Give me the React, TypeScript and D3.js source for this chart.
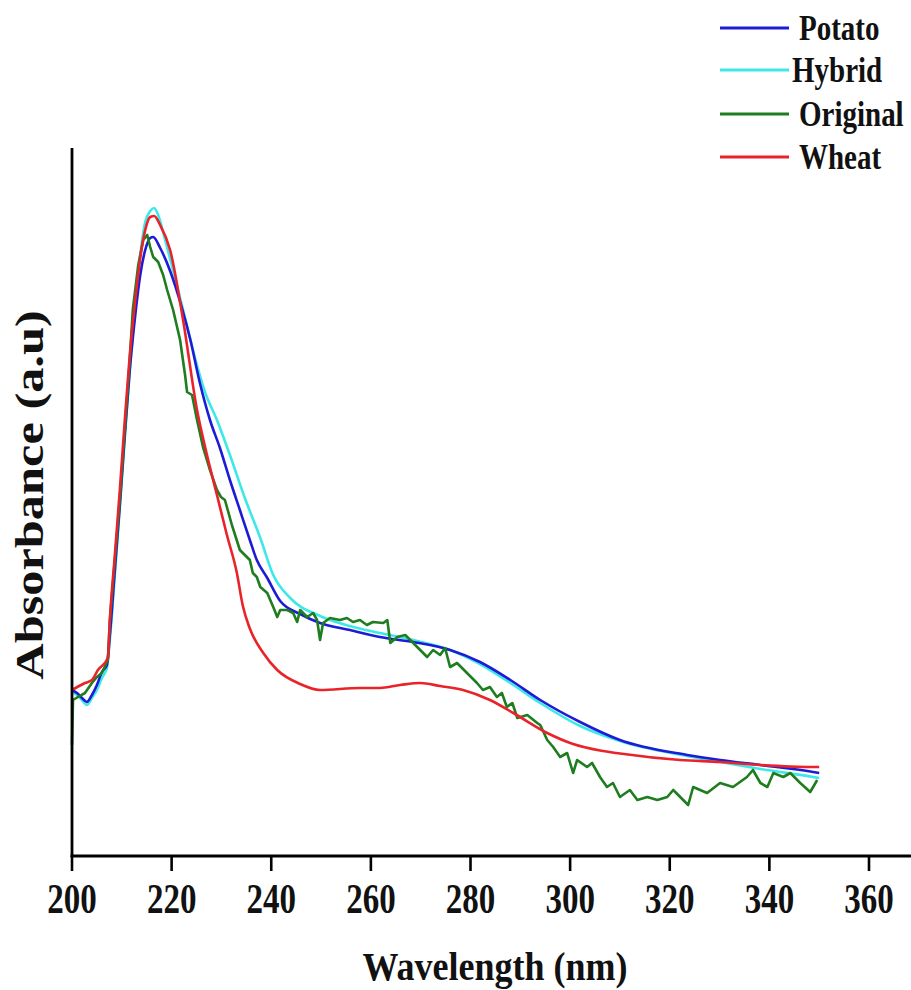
import React from "react";
import * as d3 from "d3";

// Wavelength (nm) and absorbance (a.u.)
const potatoNm = [200,201,202,203,204,205,206,207,207.6,208.6,209.6,210.6,211.6,212.7,213.7,214.7,215.7,216.3,217.7,219.7,222.1,223.7,225.7,227.7,229.7,231.7,233.7,235.7,237.1,239.2,241.8,245.8,249.8,255.8,261.8,268.5,275.9,281.9,288,294,302,310,323.5,330.1,338.2,348.8,350];
const potatoAbs = [0.332,0.326,0.316,0.308,0.322,0.342,0.368,0.382,0.442,0.572,0.702,0.842,0.972,1.082,1.162,1.212,1.236,1.238,1.216,1.17,1.095,1.035,0.945,0.872,0.816,0.752,0.692,0.632,0.592,0.556,0.51,0.484,0.466,0.452,0.438,0.428,0.412,0.388,0.352,0.312,0.268,0.232,0.202,0.192,0.182,0.168,0.166];

const hybridNm = [200,201,202,203,204,205,206,207,207.6,208.6,209.6,210.6,211.6,212.7,213.7,214.7,215.7,216.5,217.3,218.7,220.7,222.7,224.7,226.7,229.1,231.7,234.7,237.8,240.4,243.8,249.8,255.8,261.8,268.5,275.9,281.9,288,294,302,310,323.5,330.1,338.2,348.8,350];
const hybridAbs = [0.328,0.322,0.312,0.302,0.316,0.332,0.356,0.376,0.432,0.562,0.696,0.836,0.972,1.102,1.202,1.268,1.29,1.296,1.282,1.232,1.156,1.076,0.996,0.928,0.872,0.802,0.716,0.636,0.562,0.516,0.48,0.46,0.446,0.432,0.412,0.384,0.346,0.306,0.26,0.23,0.2,0.188,0.174,0.158,0.156];

const originalNm = [200.0,200.2,201.2,202.6,204.0,205.0,206.0,207.2,207.6,208.6,209.6,210.6,211.6,212.2,213.3,214.3,215.1,215.7,216.3,217.3,218.3,219.1,220.3,221.7,222.7,223.1,224.1,225.1,226.3,227.7,229.1,229.9,230.7,232.1,233.7,235.7,236.3,237.1,237.8,239.2,240.4,241.2,241.8,243.2,244.4,245.2,245.8,247.2,248.4,249.2,249.8,250.4,251.8,253.8,255.2,256.4,257.8,259.2,260.4,262.5,263.3,263.9,265.3,266.9,268.5,269.9,271.3,272.5,273.9,274.9,275.9,277.3,279.3,281.3,282.5,283.9,285.3,286.3,287.3,288.4,289.4,291.4,293.4,294.0,295.4,296.6,298.0,299.4,300.6,301.4,303.4,304.4,306.0,307.4,308.6,310.0,312.0,313.5,315.5,317.5,319.5,320.7,322.7,323.7,324.7,327.5,330.1,332.7,335.5,336.7,338.2,339.6,340.8,342.8,344.2,346.2,348.2,349.6];
const originalAbs = [0.222,0.312,0.318,0.326,0.346,0.358,0.366,0.392,0.472,0.592,0.712,0.852,0.992,1.092,1.182,1.232,1.242,1.218,1.198,1.188,1.162,1.132,1.092,1.032,0.962,0.928,0.922,0.872,0.818,0.772,0.732,0.718,0.712,0.662,0.612,0.592,0.566,0.558,0.538,0.526,0.498,0.478,0.492,0.492,0.486,0.468,0.492,0.478,0.486,0.472,0.432,0.466,0.476,0.472,0.476,0.468,0.472,0.462,0.468,0.466,0.472,0.426,0.438,0.442,0.426,0.412,0.398,0.412,0.402,0.416,0.378,0.386,0.366,0.346,0.332,0.338,0.318,0.326,0.298,0.306,0.276,0.282,0.266,0.262,0.232,0.218,0.198,0.206,0.166,0.192,0.178,0.186,0.158,0.138,0.146,0.118,0.132,0.112,0.118,0.112,0.118,0.132,0.112,0.102,0.138,0.126,0.146,0.138,0.158,0.172,0.146,0.138,0.166,0.158,0.166,0.146,0.128,0.152];

const wheatNm = [200,202.6,204,205.2,207.2,207.6,208.6,209.6,210.6,211.6,212.7,213.7,214.7,215.7,216.5,217.7,219.7,222.3,225.1,227.1,229.1,231.1,233.1,234.3,235.7,238.4,241.2,245.8,249.8,257.8,261.8,265.9,269.9,273.9,278.5,283.9,288.6,295.4,300.6,306,310,322.1,330.1,338.2,348.8,350];
const wheatAbs = [0.332,0.346,0.352,0.372,0.396,0.472,0.602,0.732,0.872,1.002,1.112,1.196,1.252,1.278,1.28,1.262,1.212,1.072,0.892,0.802,0.722,0.642,0.566,0.5,0.455,0.406,0.372,0.344,0.332,0.336,0.336,0.342,0.346,0.34,0.332,0.312,0.286,0.246,0.224,0.211,0.205,0.192,0.188,0.182,0.178,0.178];

const xTicks = [200, 220, 240, 260, 280, 300, 320, 340, 360];
const seriesNames = ["Potato", "Hybrid", "Original", "Wheat"];
const seriesColors = ["#1c1cd6", "#3ee8e8", "#1e7d1e", "#e8242a"];

const W = 911;
const H = 990;
const FONT = "'Liberation Serif', 'Times New Roman', serif";

export default function App() {
  const x = d3.scaleLinear().domain([200, 360]).range([72, 869]);
  const y = d3.scaleLinear().domain([0, 1.416]).range([856, 148]);

  const smooth = d3
    .line<[number, number]>()
    .x((d) => x(d[0]))
    .y((d) => y(d[1]))
    .curve(d3.curveMonotoneX);
  const jagged = d3
    .line<[number, number]>()
    .x((d) => x(d[0]))
    .y((d) => y(d[1]))
    .curve(d3.curveLinear);

  const zip = (a: number[], b: number[]) => a.map((v, i) => [v, b[i]] as [number, number]);

  const series = [
    { name: "Hybrid", data: zip(hybridNm, hybridAbs), gen: smooth, color: seriesColors[1] },
    { name: "Potato", data: zip(potatoNm, potatoAbs), gen: smooth, color: seriesColors[0] },
    { name: "Original", data: zip(originalNm, originalAbs), gen: jagged, color: seriesColors[2] },
    { name: "Wheat", data: zip(wheatNm, wheatAbs), gen: smooth, color: seriesColors[3] },
  ];

  const legendY = [28, 70, 114, 157];

  return (
    <svg
      width={W}
      height={H}
      style={{ position: "absolute", left: 0, top: 0, background: "#fff" }}
      fontFamily={FONT}
    >
      <rect x={0} y={0} width={W} height={H} fill="#fff" />
      {series.map((s) => (
        <path
          key={s.name}
          d={s.gen(s.data) || ""}
          fill="none"
          stroke={s.color}
          strokeWidth={2.6}
          strokeLinejoin="round"
        />
      ))}
      {/* axes */}
      <line x1={72} x2={72} y1={148} y2={857} stroke="#000" strokeWidth={2.8} />
      <line x1={70.6} x2={911} y1={856} y2={856} stroke="#000" strokeWidth={3} />
      {xTicks.map((t) => (
        <g key={t}>
          <line x1={x(t)} x2={x(t)} y1={856} y2={871} stroke="#000" strokeWidth={2.6} />
          <text
            transform={`translate(${x(t)},913) scale(1,1.25)`}
            textAnchor="middle"
            fontSize={33}
            fontWeight="bold"
            fill="#111"
          >
            {t}
          </text>
        </g>
      ))}
      <text
        transform="translate(495,980) scale(1,1.1)"
        textAnchor="middle"
        fontSize={36}
        fontWeight="bold"
        fill="#111"
      >
        Wavelength (nm)
      </text>
      <text
        transform="translate(43,495) rotate(-90) scale(1.26,1)"
        textAnchor="middle"
        fontSize={40}
        fontWeight="bold"
        fill="#111"
      >
        Absorbance (a.u)
      </text>
      {/* legend */}
      {seriesNames.map((n, i) => (
        <g key={n}>
          <line x1={720} x2={789} y1={legendY[i]} y2={legendY[i]} stroke={seriesColors[i]} strokeWidth={3} />
          <text
            transform={`translate(${n === "Hybrid" ? 792 : 799},${legendY[i] + 12}) scale(1,1.2)`}
            fontSize={29}
            fontWeight="bold"
            fill="#111"
          >
            {n}
          </text>
        </g>
      ))}
    </svg>
  );
}
